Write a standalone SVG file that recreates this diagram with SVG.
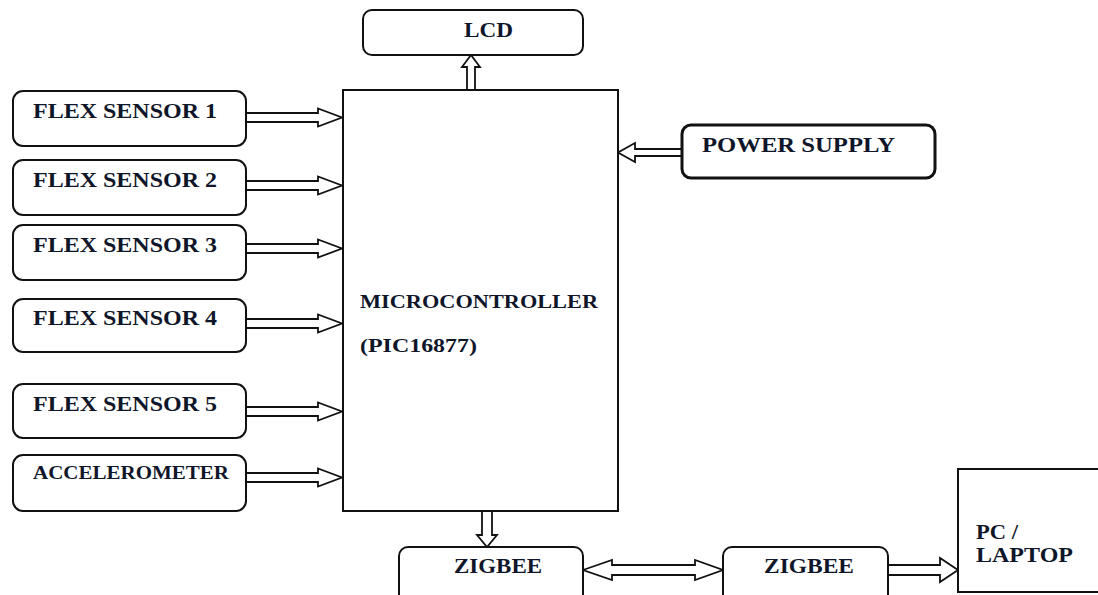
<svg xmlns="http://www.w3.org/2000/svg" width="1098" height="595" viewBox="0 0 1098 595">
<style>
.box{fill:#fff;stroke:#111;stroke-width:2}
.thick{stroke-width:3}
.arr{fill:#fff;stroke:#111;stroke-width:1.8;stroke-linejoin:miter}
.t{font-family:"Liberation Serif","Times New Roman",serif;font-weight:bold;font-size:21px;fill:#10162a}
.s{font-size:19px}
</style>
<rect width="1098" height="595" fill="#fff"/>
<g id="connectors">
<path class="arr" d="M246,113 H318 V108.5 L342,117.5 L318,126.5 V122 H246 Z"/>
<path class="arr" d="M246,181 H318 V176.5 L342,185.5 L318,194.5 V190 H246 Z"/>
<path class="arr" d="M246,244 H318 V239.5 L342,248.5 L318,257.5 V253 H246 Z"/>
<path class="arr" d="M246,319 H318 V314.5 L342,323.5 L318,332.5 V328 H246 Z"/>
<path class="arr" d="M246,407 H318 V402.5 L342,411.5 L318,420.5 V416 H246 Z"/>
<path class="arr" d="M246,473 H318 V468.5 L342,477.5 L318,486.5 V482 H246 Z"/>
<path class="arr" d="M467,90 V67 H462 L471,55 L480,67 H475 V90 Z"/>
<path class="arr" d="M682,149 H635 V143 L618,152.5 L635,162 V156 H682 Z"/>
<path class="arr" d="M482,511 V535 H477 L487,547 L497,535 H492 V511 Z"/>
<path class="arr" d="M583,570 L612,560 V565 H695 V560 L723,570 L695,580 V575 H612 V580 Z"/>
<path class="arr" d="M888,565 H940 V558 L958,570 L940,582 V575 H888 Z"/>
</g>
<g id="lcd">
<rect class="box" x="363" y="10" width="220" height="45" rx="9"/>
<text class="t" x="464" y="37" textLength="49" lengthAdjust="spacingAndGlyphs">LCD</text>
</g>
<g id="flex1">
<rect class="box" x="13" y="91" width="233" height="55" rx="10"/>
<text class="t" x="33" y="118" textLength="184" lengthAdjust="spacingAndGlyphs">FLEX SENSOR 1</text>
</g>
<g id="flex2">
<rect class="box" x="13" y="160" width="233" height="55" rx="10"/>
<text class="t" x="33" y="187" textLength="184" lengthAdjust="spacingAndGlyphs">FLEX SENSOR 2</text>
</g>
<g id="flex3">
<rect class="box" x="13" y="225" width="233" height="55" rx="10"/>
<text class="t" x="33" y="252" textLength="184" lengthAdjust="spacingAndGlyphs">FLEX SENSOR 3</text>
</g>
<g id="flex4">
<rect class="box" x="13" y="299" width="233" height="53" rx="10"/>
<text class="t" x="33" y="325" textLength="184" lengthAdjust="spacingAndGlyphs">FLEX SENSOR 4</text>
</g>
<g id="flex5">
<rect class="box" x="13" y="384" width="233" height="54" rx="10"/>
<text class="t" x="33" y="411" textLength="184" lengthAdjust="spacingAndGlyphs">FLEX SENSOR 5</text>
</g>
<g id="accelerometer">
<rect class="box" x="13" y="455" width="233" height="56" rx="10"/>
<text class="t s" x="33" y="479" textLength="196" lengthAdjust="spacingAndGlyphs">ACCELEROMETER</text>
</g>
<g id="microcontroller">
<rect class="box" x="343" y="90" width="275" height="421"/>
<text class="t s" x="360" y="308" textLength="238" lengthAdjust="spacingAndGlyphs">MICROCONTROLLER</text>
<text class="t s" x="360" y="352" textLength="117" lengthAdjust="spacingAndGlyphs">(PIC16877)</text>
</g>
<g id="power">
<rect class="box thick" x="682" y="125" width="253" height="53" rx="9"/>
<text class="t" x="702" y="152" textLength="193" lengthAdjust="spacingAndGlyphs">POWER SUPPLY</text>
</g>
<g id="zigbee1">
<rect class="box" x="399" y="547" width="184" height="60" rx="9"/>
<text class="t" x="454" y="573" textLength="88" lengthAdjust="spacingAndGlyphs">ZIGBEE</text>
</g>
<g id="zigbee2">
<rect class="box" x="723" y="547" width="165" height="60" rx="9"/>
<text class="t" x="764" y="573" textLength="90" lengthAdjust="spacingAndGlyphs">ZIGBEE</text>
</g>
<g id="pc">
<rect class="box" x="958" y="469" width="150" height="123"/>
<text class="t" x="976" y="539" textLength="42" lengthAdjust="spacingAndGlyphs">PC /</text>
<text class="t" x="976" y="562" textLength="97" lengthAdjust="spacingAndGlyphs">LAPTOP</text>
</g>
</svg>
